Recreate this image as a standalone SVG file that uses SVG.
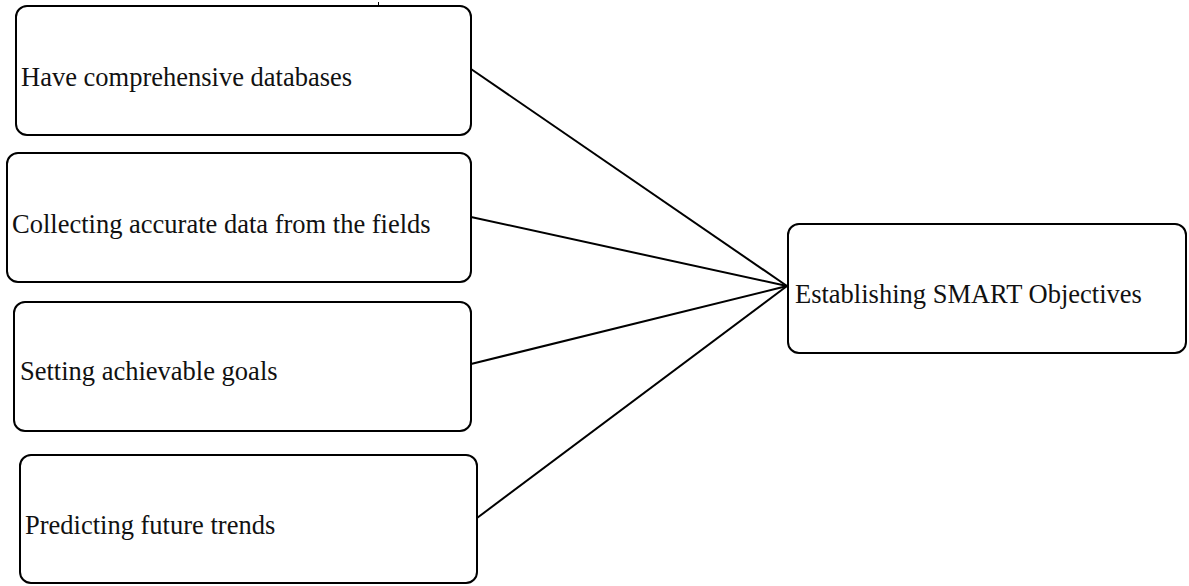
<svg xmlns="http://www.w3.org/2000/svg" width="1189" height="586" viewBox="0 0 1189 586">
  <style>
    .box { fill: #ffffff; stroke: #000000; stroke-width: 2; }
    .label { font-family: "Liberation Serif", "Times New Roman", Times, serif; font-size: 26.5px; fill: #111111; }
    .link { stroke: #000000; stroke-width: 2; fill: none; }
  </style>
  <rect width="1189" height="586" fill="#ffffff"/>

  <!-- connectors: every source box feeds the objectives box -->
  <g id="connectors">
    <line class="link" x1="471" y1="69" x2="787" y2="286"/>
    <line class="link" x1="471" y1="217" x2="787" y2="286"/>
    <line class="link" x1="471" y1="364" x2="787" y2="286"/>
    <line class="link" x1="477" y1="518" x2="787" y2="286"/>
    <line stroke="#000000" stroke-width="1" x1="378.5" y1="2" x2="378.5" y2="5"/>
  </g>

  <g id="node-databases">
    <rect class="box" x="16" y="6" width="455" height="129" rx="11"/>
    <text class="label" x="21" y="86">Have comprehensive databases</text>
  </g>

  <g id="node-collecting">
    <rect class="box" x="7" y="153" width="464" height="129" rx="11"/>
    <text class="label" x="12" y="233">Collecting accurate data from the fields</text>
  </g>

  <g id="node-goals">
    <rect class="box" x="14" y="302" width="457" height="129" rx="11"/>
    <text class="label" x="20" y="380">Setting achievable goals</text>
  </g>

  <g id="node-trends">
    <rect class="box" x="20" y="455" width="457" height="128" rx="11"/>
    <text class="label" x="25" y="534">Predicting future trends</text>
  </g>

  <g id="node-smart">
    <rect class="box" x="788" y="224" width="398" height="129" rx="11"/>
    <text class="label" x="795" y="303">Establishing SMART Objectives</text>
  </g>
</svg>
